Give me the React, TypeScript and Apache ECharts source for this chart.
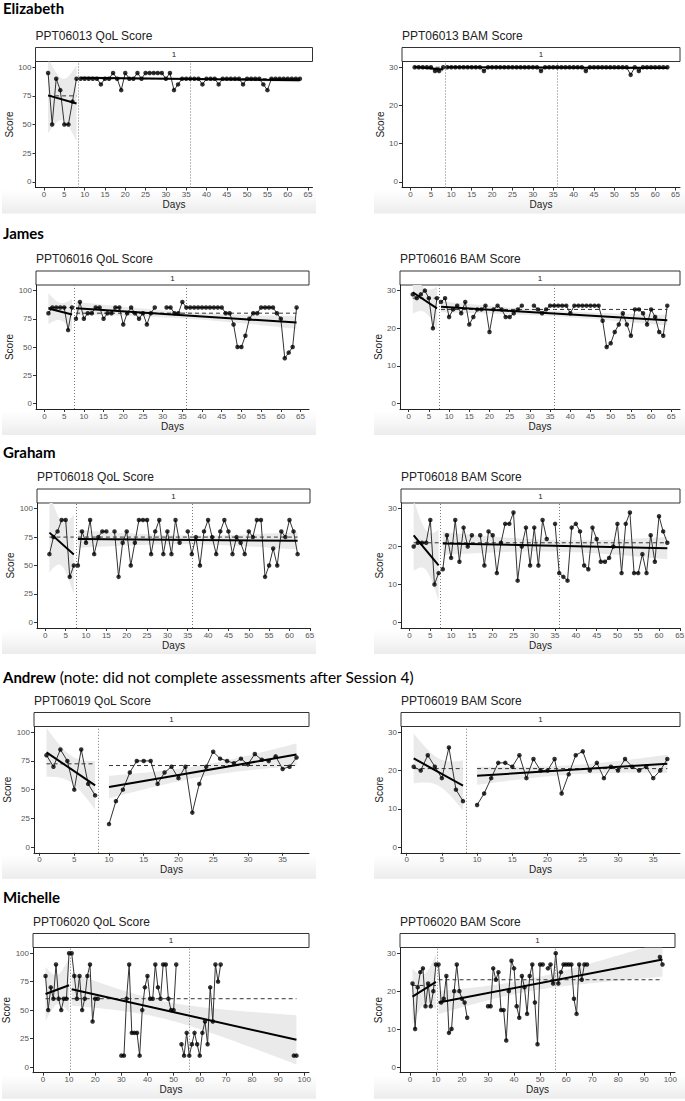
import React, { useEffect, useRef } from "react";
import * as echarts from "echarts";

type Run = [number, number[]]; // [first day, consecutive daily scores]

// ---------------- DATA ----------------
// Elizabeth PPT06013
const elizabethQolA: Run[] = [[1, [95, 50, 90, 80, 50, 50, 70, 90]]];
const elizabethQolB: Run[] = [[9, [90, 90, 90, 90, 90, 85, 90, 90, 95, 90, 80, 95, 90, 90, 95, 90, 95, 95, 95, 95, 95, 90, 95, 80, 85, 90, 90, 90, 90, 90, 85, 90, 90, 90, 85, 90, 90, 90, 90, 90, 85, 90, 90, 90, 90, 85, 80, 90, 90, 90, 90, 90, 90, 90, 90]]];
const elizabethBamA: Run[] = [[1, [30, 30, 30, 30, 30, 29, 29, 30]]];
const elizabethBamB: Run[] = [[9, [30, 30, 30, 30, 30, 30, 30, 30, 30, 29, 30, 30, 30, 30, 30, 30, 30, 30, 30, 30, 30, 30, 30, 29, 30, 30, 30, 30, 30, 30, 30, 30, 30, 30, 29, 30, 30, 30, 30, 30, 30, 30, 30, 30, 30, 28, 30, 29, 30, 30, 30, 30, 30, 30, 30]]];
const elizabethSessions = [8.5, 36];

// James PPT06016
const jamesQolA: Run[] = [[1, [80, 85, 85, 85, 85, 65, 85]]];
const jamesQolB: Run[] = [
  [8, [75, 90, 75, 80, 80, 85, 85, 75, 80, 80, 85, 85, 70, 80, 85, 80, 75, 80, 70, 80, 85]],
  [31, [85, 85, 80, 80, 90, 85, 85, 85, 85, 85, 85, 85, 85, 85, 85, 80, 80, 70, 50, 50, 60, 75, 80, 80, 85, 85, 85, 85, 80, 75, 40, 45, 50, 85]],
];
const jamesBamA: Run[] = [[1, [29, 28, 29, 30, 28, 20, 28]]];
const jamesBamB: Run[] = [
  [8, [27, 28, 23, 25, 26, 24, 27, 21, 23, 25, 25, 26, 19, 25, 26, 25, 23, 23, 24, 25, 26]],
  [31, [26, 25, 24, 25, 26, 26, 26, 26, 26, 24, 26, 26, 26, 26, 26, 26, 26, 22, 15, 16, 19, 21, 24, 21, 18, 25, 25, 24, 21, 25, 23, 19, 18, 26]],
];
const jamesSessions = [7.5, 36];

// Graham PPT06018
const grahamQolA: Run[] = [[1, [60, 75, 80, 90, 90, 40, 50]]];
const grahamQolB: Run[] = [
  [8, [50, 80, 70, 90, 60, 75, 80, 80]],
  [17, [80, 40, 70, 80, 50, 70, 90, 90, 90, 60, 80, 90, 60, 80, 60, 90, 70]],
  [35, [80, 60, 75, 50, 80, 90, 75, 60, 80, 90, 80, 60, 75, 70, 60, 80, 75, 90, 90, 40, 50, 65, 50, 80, 75, 90, 80, 60]],
];
const grahamBamA: Run[] = [[1, [20, 21, 21, 21, 27, 10, 13]]];
const grahamBamB: Run[] = [
  [8, [14, 23, 17, 27, 16, 25, 20, 23]],
  [17, [23, 15, 24, 23, 13, 21, 26, 26, 29, 11, 20, 25, 15, 25, 15, 27, 22]],
  [35, [26, 13, 12, 11, 25, 26, 24, 15, 14, 25, 22, 16, 16, 17, 20, 26, 13, 26, 29, 13, 13, 18, 13, 23, 16, 28, 24, 21]],
];
const grahamSessions = [7.5, 36];

// Andrew PPT06019
const andrewQolA: Run[] = [[1, [80, 70, 85, 75, 50, 85, 55, 45]]];
const andrewQolB: Run[] = [[10, [20, 40, 50, 65, 75, 75, 75, 55, 65, 70, 60, 70, 30, 55, 70, 83, 77, 75, 73, 77, 72, 81, 76, 75, 79, 68, 70, 78]]];
const andrewBamA: Run[] = [[1, [21, 20, 24, 21, 18, 26, 15, 12]]];
const andrewBamB: Run[] = [[10, [11, 14, 18, 22, 22, 21, 24, 18, 23, 20, 20, 23, 14, 19, 24, 25, 20, 22, 18, 21, 20, 23, 21, 20, 21, 18, 20, 23]]];
const andrewSessions = [8.5];

// Michelle PPT06020
const michelleQolA: Run[] = [[1, [80, 50, 70, 60, 90, 60, 50, 60, 60, 100]]];
const michelleQolB: Run[] = [
  [11, [100, 80, 60, 80, 50, 60, 80, 90, 40, 60, 60]],
  [30, [10, 10, 60, 90, 30, 30, 30, 10, 50, 70, 80, 60, 60, 90, 70, 60, 90, 90, 60, 50, 50, 90]],
  [53, [20, 10, 30, 10, 20, 30, 20, 10, 30, 40, 20, 70, 40, 90, 75, 90]],
  [96, [10, 10]],
];
const michelleBamA: Run[] = [[1, [22, 10, 21, 25, 26, 16, 22, 16, 20, 27]]];
const michelleBamB: Run[] = [
  [11, [27, 17, 18, 24, 9, 10, 20, 27, 20, 18, 17, 13]],
  [30, [16, 16, 26, 23, 25, 15, 15, 7, 20, 28, 26, 16, 13, 24, 21, 14, 24, 27, 17, 6, 27, 27]],
  [53, [26, 27, 22, 30, 22, 25, 27, 27, 27, 27, 18, 14, 27, 23, 27, 27]],
  [96, [29, 27]],
];
const michelleSessions = [10.5, 56];

// tick labels
const dayTicks65 = [0, 5, 10, 15, 20, 25, 30, 35, 40, 45, 50, 55, 60, 65];
const dayTicks35 = [0, 5, 10, 15, 20, 25, 30, 35];
const dayTicks100 = [0, 10, 20, 30, 40, 50, 60, 70, 80, 90, 100];
const qolTicks = [0, 25, 50, 75, 100];
const bamTicks = [0, 10, 20, 30];

const participants = [
  { name: "Elizabeth", note: "" },
  { name: "James", note: "" },
  { name: "Graham", note: "" },
  { name: "Andrew", note: " (note: did not complete assessments after Session 4)" },
  { name: "Michelle", note: "" },
];

const panels = [
  { title: "PPT06013 QoL Score", kind: "qol", A: elizabethQolA, B: elizabethQolB, sessions: elizabethSessions, xTicks: dayTicks65 },
  { title: "PPT06013 BAM Score", kind: "bam", A: elizabethBamA, B: elizabethBamB, sessions: elizabethSessions, xTicks: dayTicks65 },
  { title: "PPT06016 QoL Score", kind: "qol", A: jamesQolA, B: jamesQolB, sessions: jamesSessions, xTicks: dayTicks65 },
  { title: "PPT06016 BAM Score", kind: "bam", A: jamesBamA, B: jamesBamB, sessions: jamesSessions, xTicks: dayTicks65 },
  { title: "PPT06018 QoL Score", kind: "qol", A: grahamQolA, B: grahamQolB, sessions: grahamSessions, xTicks: dayTicks65 },
  { title: "PPT06018 BAM Score", kind: "bam", A: grahamBamA, B: grahamBamB, sessions: grahamSessions, xTicks: dayTicks65 },
  { title: "PPT06019 QoL Score", kind: "qol", A: andrewQolA, B: andrewQolB, sessions: andrewSessions, xTicks: dayTicks35 },
  { title: "PPT06019 BAM Score", kind: "bam", A: andrewBamA, B: andrewBamB, sessions: andrewSessions, xTicks: dayTicks35 },
  { title: "PPT06020 QoL Score", kind: "qol", A: michelleQolA, B: michelleQolB, sessions: michelleSessions, xTicks: dayTicks100 },
  { title: "PPT06020 BAM Score", kind: "bam", A: michelleBamA, B: michelleBamB, sessions: michelleSessions, xTicks: dayTicks100 },
];

// ---------------- LAYOUT ----------------
const HEADER_Y = [8, 233, 452, 677, 897];
const LAYOUT = [
  { x1: 35.5, x2: 312.5, top: 61.5, bottom: 187.5 },
  { x1: 402, x2: 680, top: 61.5, bottom: 187.5 },
  { x1: 36, x2: 309, top: 285, bottom: 409 },
  { x1: 400, x2: 680, top: 285, bottom: 409 },
  { x1: 37, x2: 310, top: 503, bottom: 628 },
  { x1: 401, x2: 680, top: 503, bottom: 628 },
  { x1: 34, x2: 309, top: 726.5, bottom: 852.8 },
  { x1: 401, x2: 680, top: 726.5, bottom: 852.8 },
  { x1: 33, x2: 309, top: 947.5, bottom: 1072.7 },
  { x1: 400, x2: 675, top: 947.5, bottom: 1072.7 },
];
const SHADE_X = [[2, 316], [374, 685]];
const STRIP_H = 14;
const FONT = "'Liberation Sans', Arial, Helvetica, sans-serif";
const HEAD_FONT = "Lato, 'Open Sans', sans-serif";

// ---------------- HELPERS ----------------
function runPoints(runs: Run[]): number[][] {
  const out: number[][] = [];
  runs.forEach(([s, vals]) => vals.forEach((v, k) => out.push([s + k, v])));
  return out;
}
function median(vals: number[]) {
  const s = [...vals].sort((a, b) => a - b);
  const n = s.length;
  return n % 2 ? s[(n - 1) / 2] : (s[n / 2 - 1] + s[n / 2]) / 2;
}
function tq975(df: number) {
  const z = 1.959963985;
  const z3 = z ** 3, z5 = z ** 5, z7 = z ** 7, z9 = z ** 9;
  const g1 = (z3 + z) / 4;
  const g2 = (5 * z5 + 16 * z3 + 3 * z) / 96;
  const g3 = (3 * z7 + 19 * z5 + 17 * z3 - 15 * z) / 384;
  const g4 = (79 * z9 + 776 * z7 + 1482 * z5 - 1920 * z3 - 945 * z) / 92160;
  return z + g1 / df + g2 / df ** 2 + g3 / df ** 3 + g4 / df ** 4;
}
function fit(pts: number[][]) {
  const n = pts.length;
  const mx = pts.reduce((s, p) => s + p[0], 0) / n;
  const my = pts.reduce((s, p) => s + p[1], 0) / n;
  let sxx = 0, sxy = 0;
  pts.forEach(([x, y]) => { sxx += (x - mx) ** 2; sxy += (x - mx) * (y - my); });
  const b = sxy / sxx;
  const a = my - b * mx;
  let sse = 0;
  pts.forEach(([x, y]) => { sse += (y - (a + b * x)) ** 2; });
  const s = Math.sqrt(sse / (n - 2));
  const xs = pts.map((p) => p[0]);
  return { a, b, mx, sxx, s, n, x0: Math.min(...xs), x1: Math.max(...xs), t: tq975(n - 2) };
}

function buildOption() {
  const option: any = {
    animation: false,
    backgroundColor: "#ffffff",
    grid: [], xAxis: [], yAxis: [], series: [], graphic: [],
  };

  participants.forEach((p, r) => {
    option.graphic.push({
      type: "text", x: 3, y: HEADER_Y[r], silent: true,
      style: {
        text: p.note ? `{b|${p.name}}{n|${p.note}}` : `{b|${p.name}}`,
        verticalAlign: "middle",
        fill: "#000",
        rich: {
          b: { fontFamily: HEAD_FONT, fontWeight: "bold", fontSize: 15, fill: "#000" },
          n: { fontFamily: HEAD_FONT, fontWeight: "normal", fontSize: 15.5, fill: "#000" },
        },
      },
    });
    // faint grey shading beneath each row of plots
    const bottom = LAYOUT[r * 2].bottom;
    SHADE_X.forEach(([sx0, sx1]) => {
      option.graphic.push({
        type: "rect", silent: true, z: -10,
        shape: { x: sx0, y: bottom + 2, width: sx1 - sx0, height: 24 },
        style: {
          fill: new echarts.graphic.LinearGradient(0, 0, 0, 1, [
            { offset: 0, color: "rgba(238,238,238,0)" },
            { offset: 1, color: "rgba(236,236,236,1)" },
          ]),
        },
      });
    });
  });

  panels.forEach((p, i) => {
    const L = LAYOUT[i];
    const isQol = p.kind === "qol";
    const yMin = isQol ? -5 : -1.5, yMax = isQol ? 105 : 31.5;
    const ptsA = runPoints(p.A), ptsB = runPoints(p.B);
    const allX = [...ptsA, ...ptsB].map((q) => q[0]);
    const dx0 = Math.min(...allX), dx1 = Math.max(...allX);
    const pad = (dx1 - dx0) * 0.05;

    option.grid.push({ left: L.x1, top: L.top, width: L.x2 - L.x1, height: L.bottom - L.top, containLabel: false, outerBoundsMode: "none" });
    option.xAxis.push({
      type: "value", gridIndex: i, min: dx0 - pad, max: dx1 + pad,
      name: "Days", nameLocation: "middle", nameGap: 12,
      nameTextStyle: { fontSize: 10, color: "#1a1a1a", fontFamily: FONT },
      axisLine: { show: true, onZero: false, lineStyle: { color: "#222", width: 1 } },
      axisTick: { show: true, length: 3, lineStyle: { color: "#333" }, customValues: p.xTicks },
      axisLabel: { fontSize: 8, color: "#555", margin: 3, fontFamily: FONT, customValues: p.xTicks },
      splitLine: { show: false },
    });
    option.yAxis.push({
      type: "value", gridIndex: i, min: yMin, max: yMax,
      name: "Score", nameLocation: "middle", nameGap: isQol ? 20 : 15,
      nameTextStyle: { fontSize: 10, color: "#1a1a1a", fontFamily: FONT },
      axisLine: { show: true, onZero: false, lineStyle: { color: "#222", width: 1 } },
      axisTick: { show: true, length: 3, lineStyle: { color: "#333" }, customValues: isQol ? qolTicks : bamTicks },
      axisLabel: { fontSize: 8, color: "#555", margin: 4, fontFamily: FONT, customValues: isQol ? qolTicks : bamTicks },
      splitLine: { show: false },
    });

    // title + strip
    const stripTop = L.top - STRIP_H;
    option.graphic.push({
      type: "text", x: L.x1, y: stripTop - 12, silent: true,
      style: { text: p.title, fontFamily: FONT, fontSize: 12, fill: "#222", verticalAlign: "middle" },
    });
    option.graphic.push({
      type: "rect", silent: true,
      shape: { x: L.x1, y: stripTop, width: L.x2 - L.x1, height: STRIP_H },
      style: { fill: "#ffffff", stroke: "#333", lineWidth: 1 },
    });
    option.graphic.push({
      type: "text", x: (L.x1 + L.x2) / 2, y: stripTop + STRIP_H / 2, silent: true,
      style: { text: "1", fontFamily: FONT, fontSize: 8, fill: "#1a1a1a", align: "center", verticalAlign: "middle" },
    });

    [ptsA, ptsB].forEach((pts) => {
      const f = fit(pts);
      const band: number[][] = [];
      const lo: number[][] = [];
      const N = 80;
      for (let k = 0; k <= N; k++) {
        const x = f.x0 + ((f.x1 - f.x0) * k) / N;
        const yh = f.a + f.b * x;
        const se = f.s * Math.sqrt(1 / f.n + (x - f.mx) ** 2 / f.sxx);
        const clamp = (v: number) => Math.max(yMin, Math.min(yMax, v));
        band.push([x, clamp(yh + f.t * se)]);
        lo.push([x, clamp(yh - f.t * se)]);
      }
      const poly = band.concat(lo.reverse());
      option.series.push({
        type: "custom", xAxisIndex: i, yAxisIndex: i, silent: true, clip: true, z: 1,
        data: [[(f.x0 + f.x1) / 2, 0]],
        renderItem: (_params: any, api: any) => ({
          type: "polygon",
          shape: { points: poly.map((q) => api.coord(q)) },
          style: { fill: "#eaeaea" },
        }),
      });
      const m = median(pts.map((q) => q[1]));
      option.series.push({
        type: "line", xAxisIndex: i, yAxisIndex: i, silent: true, z: 3, symbol: "none",
        data: [[f.x0, m], [f.x1, m]],
        lineStyle: { color: "#333", width: 1, type: [4, 3] },
      });
      option.series.push({
        type: "line", xAxisIndex: i, yAxisIndex: i, silent: true, z: 6, symbol: "none",
        data: [[f.x0, f.a + f.b * f.x0], [f.x1, f.a + f.b * f.x1]],
        lineStyle: { color: "#000", width: 2 },
      });
    });

    [...p.A, ...p.B].forEach((run) => {
      option.series.push({
        type: "line", xAxisIndex: i, yAxisIndex: i, silent: true, z: 4, symbol: "none",
        data: runPoints([run]),
        lineStyle: { color: "#333", width: 1 },
      });
    });

    option.series.push({
      type: "scatter", xAxisIndex: i, yAxisIndex: i, silent: true, z: 5,
      symbolSize: 4.5,
      itemStyle: { color: "#000" },
      data: [...ptsA, ...ptsB],
      markLine: {
        silent: true, symbol: "none", label: { show: false },
        lineStyle: { color: "#777", width: 1, type: [1, 2] },
        data: p.sessions.map((s) => ({ xAxis: s })),
      },
    });
  });

  return option;
}

export default function App() {
  const ref = useRef<HTMLDivElement>(null);
  useEffect(() => {
    document.body.style.margin = "0";
    if (!ref.current) return;
    const chart = echarts.init(ref.current, undefined, { renderer: "svg" });
    chart.setOption(buildOption());
    return () => chart.dispose();
  }, []);
  return <div ref={ref} style={{ width: 685, height: 1101 }} />;
}
